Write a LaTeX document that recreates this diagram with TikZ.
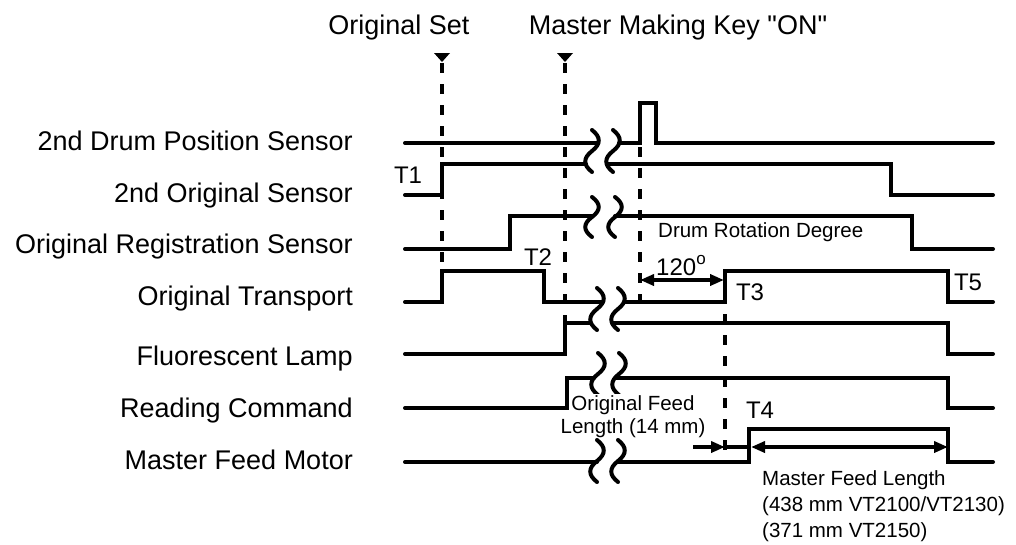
\documentclass[tikz,border=0pt]{standalone}
\usepackage{fontspec}
\setmainfont{Liberation Sans}[Ligatures=TeXOff]
\usetikzlibrary{arrows.meta}
\newcommand{\wavebreak}[4]{% x1, x2, top, bottom
  \pgfmathsetmacro{\wbm}{(#3+#4)/2}%
  \pgfmathsetmacro{\wbq}{(#4-#3)/6}%
  \foreach \xx in {#1,#2}{%
    \draw[brk] (\xx,#3) .. controls (\xx+9,#3+\wbq) and (\xx+9,\wbm-\wbq) .. (\xx,\wbm)
      .. controls (\xx-9,\wbm+\wbq) and (\xx-9,#4-\wbq) .. (\xx,#4);
  }%
}
\begin{document}
\begin{tikzpicture}[x=1pt,y=-1pt,
  sig/.style={line width=4pt, line cap=round, line join=miter},
  brk/.style={line width=4pt, line cap=round},
  dashv/.style={line width=4.5pt, dash pattern=on 10pt off 11pt},
  marker/.style={fill=black},
  rowlbl/.style={anchor=base east, inner sep=0pt, font=\fontsize{27}{30}\selectfont},
  title/.style={anchor=base, inner sep=0pt, font=\fontsize{27}{30}\selectfont},
  tlbl/.style={anchor=base, inner sep=0pt, font=\fontsize{24}{28}\selectfont},
  small/.style={anchor=base west, inner sep=0pt, font=\fontsize{20.5}{24}\selectfont},
  dim/.style={line width=4pt, {Triangle[length=14pt,width=11pt]}-{Triangle[length=14pt,width=11pt]}},
  dimr/.style={line width=4pt, -{Triangle[length=14pt,width=11pt]}},
]
\useasboundingbox (0,0) rectangle (1016,544);

% titles
\node[title] (tset) at (399,34) {Original Set};
\node[title] (tkey) at (678,34) {Master Making Key "ON"};

% markers
\fill[marker] (434,53) -- (450,53) -- (442,62) -- cycle;
\fill[marker] (557,53) -- (573,53) -- (565,62) -- cycle;

% row labels
\node[rowlbl] (l1) at (353,150) {2nd Drum Position Sensor};
\node[rowlbl] (l2) at (353,202) {2nd Original Sensor};
\node[rowlbl] (l3) at (353,253) {Original Registration Sensor};
\node[rowlbl] (l4) at (353,305) {Original Transport};
\node[rowlbl] (l5) at (353,365) {Fluorescent Lamp};
\node[rowlbl] (l6) at (353,417) {Reading Command};
\node[rowlbl] (l7) at (353,469) {Master Feed Motor};

% dashed verticals
\draw[dashv] (442,63) -- (442,272);
\draw[dashv] (565,63) -- (565,323);
\draw[dashv] (640,147) -- (640,300);
\draw[dashv] (725,272) -- (725,457);

% signals
\draw[sig] (405,143) -- (598,143);
\draw[sig] (619,143) -- (640,143) -- (640,103) -- (656,103) -- (656,143) -- (993,143);

\draw[sig] (405,195) -- (442,195) -- (442,164) -- (586,164);
\draw[sig] (607,164) -- (891,164) -- (891,195) -- (993,195);

\draw[sig] (405,249) -- (510,249) -- (510,216) -- (592,216);
\draw[sig] (615,216) -- (912,216) -- (912,249) -- (993,249);

\draw[sig] (405,302) -- (442,302) -- (442,271) -- (544,271) -- (544,302) -- (603,302);
\draw[sig] (624,302) -- (725,302) -- (725,271) -- (948,271) -- (948,302) -- (993,302);

\draw[sig] (405,354) -- (565,354) -- (565,323) -- (591,323);
\draw[sig] (612,323) -- (948,323) -- (948,354) -- (993,354);

\draw[sig] (405,408) -- (567,408) -- (567,378) -- (594,378);
\draw[sig] (615,378) -- (948,378) -- (948,408) -- (993,408);

\draw[sig] (405,462) -- (597,462);
\draw[sig] (618,462) -- (749,462) -- (749,429) -- (948,429) -- (948,462) -- (993,462);

% breaks
\wavebreak{592}{613}{130}{172}
\wavebreak{592}{615}{197}{237}
\wavebreak{597}{618}{288}{330}
\wavebreak{598}{619}{353}{395}
\wavebreak{597}{618}{440}{482}

% T labels
\node[tlbl] (t1) at (408,183) {T1};
\node[tlbl] (t2) at (538,265) {T2};
\node[tlbl] (t3) at (750,300) {T3};
\node[tlbl] (t4) at (760,418) {T4};
\node[tlbl] (t5) at (968,290) {T5};

% drum rotation
\node[small] (drd) at (658,237) {Drum Rotation Degree};
\node[anchor=base west, inner sep=0pt, font=\fontsize{24}{28}\selectfont] (deg) at (656,275) {120\raisebox{0.42em}{\fontsize{17}{17}\selectfont o}};
\coordinate (r1) at (640,280);
\coordinate (r2) at (724,280);
\draw[dim] (r1) -- (r2);

% original feed length
\node[anchor=base, inner sep=1pt, fill=white, font=\fontsize{20.5}{24}\selectfont] (of1) at (633,410) {Original Feed};
\node[anchor=base, inner sep=1pt, fill=white, font=\fontsize{20.5}{24}\selectfont] (of2) at (633,433) {Length (14 mm)};
\coordinate (f0) at (693,447);
\coordinate (f1) at (725,447);
\coordinate (f2) at (749,447);
\coordinate (f3) at (751,447);
\coordinate (f4) at (948,447);
\draw[dimr] (f0) -- (f1);
\draw[line width=4pt] (f1) -- (f2);
\draw[dim] (f3) -- (f4);

% master feed length
\node[small] (mf1) at (762,485) {Master Feed Length};
\node[small] (mf2) at (762,511) {(438 mm VT2100/VT2130)};
\node[small] (mf3) at (762,537) {(371 mm VT2150)};
\end{tikzpicture}
\end{document}
